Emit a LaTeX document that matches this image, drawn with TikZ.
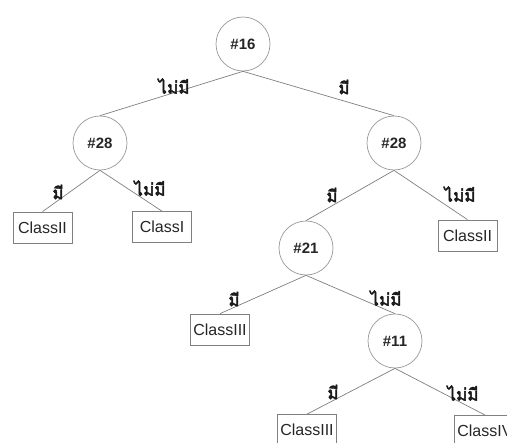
\documentclass[tikz,border=0pt]{standalone}
\usepackage{fontspec}
\setmainfont{Liberation Sans}
\newfontfamily\thaifont[Script=Thai,FakeBold=2.5]{Loma}
\begin{document}
\begin{tikzpicture}[x=1pt,y=-1pt,
  dec/.style={circle, draw=black!40, line width=0.7pt, minimum size=54pt, inner sep=0pt, text=black!85, font=\bfseries\fontsize{15}{15}\selectfont},
  cls/.style={rectangle, draw=black!50, line width=0.7pt, minimum height=31pt, minimum width=59pt, inner xsep=3pt, text=black!85, font=\fontsize{16}{16}\selectfont},
  edge/.style={draw=black!50, line width=0.7pt},
  lbl/.style={inner sep=0pt, text=black!90, font=\thaifont\fontsize{17}{17}\selectfont}]
\useasboundingbox (0,0) rectangle (507,443);
\clip (0,0) rectangle (507,443);
\fill[white] (0,0) rectangle (507,443);
% decision nodes
\node[dec] (n16) at (243,44) {\#16};
\node[dec] (l28) at (100,143) {\#28};
\node[dec] (r28) at (394,143) {\#28};
\node[dec] (n21) at (306,248) {\#21};
\node[dec] (n11) at (395,341) {\#11};
% leaves
\node[cls] (c1) at (42.5,227.5) {ClassII};
\node[cls] (c2) at (162,227) {ClassI};
\node[cls] (c3) at (467.5,235.5) {ClassII};
\node[cls] (c4) at (220,329.5) {ClassIII};
\node[cls] (c5) at (307,430) {ClassIII};
\node[cls, anchor=north west] (c6) at (454,415) {ClassIV};
% edges
\draw[edge] (n16.south) -- (l28.north);
\draw[edge] (n16.south) -- (r28.north);
\draw[edge] (l28.south) -- (c1.north);
\draw[edge] (l28.south) -- (c2.north);
\draw[edge] (r28.south) -- (n21.north);
\draw[edge] (r28.south) -- (c3.north);
\draw[edge] (n21.south) -- (c4.north);
\draw[edge] (n21.south) -- (n11.north);
\draw[edge] (n11.south) -- (c5.north);
\draw[edge] (n11.south) -- (c6.north);
% labels
\node[lbl] (t1) at (174,86) {ไม่มี};
\node[lbl] (t2) at (344,87) {มี};
\node[lbl] (t3) at (58,192) {มี};
\node[lbl] (t4) at (150,188) {ไม่มี};
\node[lbl] (t5) at (332,195) {มี};
\node[lbl] (t6) at (460,194) {ไม่มี};
\node[lbl] (t7) at (234,299) {มี};
\node[lbl] (t8) at (386,298) {ไม่มี};
\node[lbl] (t9) at (333,392) {มี};
\node[lbl] (t10) at (463,393) {ไม่มี};
\end{tikzpicture}
\end{document}
